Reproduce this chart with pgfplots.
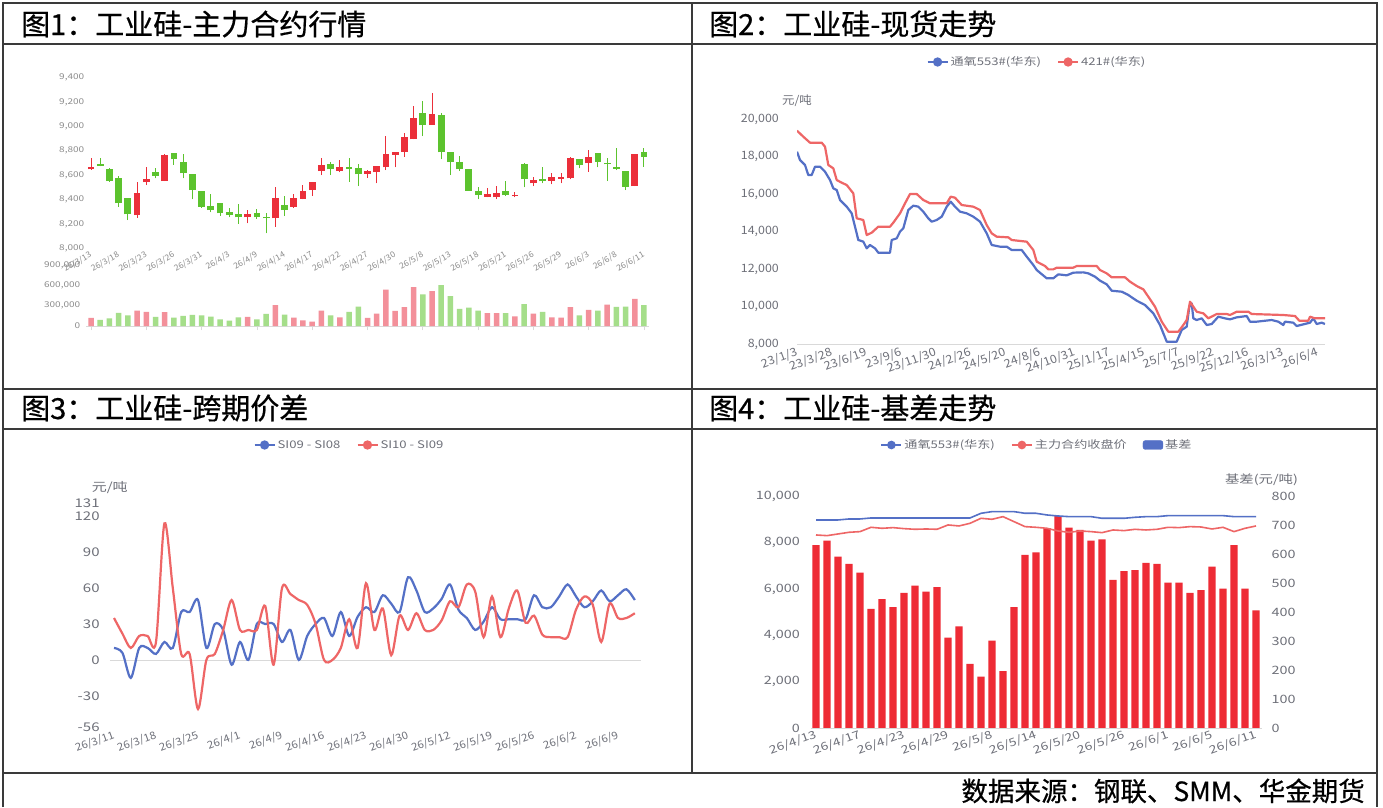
\documentclass[border=0pt]{standalone}
\usepackage{fontspec}
\setmainfont{Noto Sans CJK SC}
\newfontfamily\cjk[FakeBold=0.6]{Noto Sans CJK SC}
\newfontfamily\cjkS[FakeStretch=1.25]{Noto Sans CJK SC}
\newfontfamily\cjkT[FakeStretch=1.08]{Noto Sans CJK SC}
\newfontfamily\cjkU[FakeStretch=1.05]{Noto Sans CJK SC}
\usepackage{pgfplots}
\usepackage{pgfplotstable}
\pgfplotsset{compat=1.18}
\definecolor{cred}{HTML}{EB2F3A}
\definecolor{cgreen}{HTML}{5CC32E}
\definecolor{vred}{HTML}{F3909A}
\definecolor{vgreen}{HTML}{A5DE8A}
\definecolor{lblue}{HTML}{5470C6}
\definecolor{lred}{HTML}{EE6666}
\definecolor{bred}{HTML}{EE2B35}
\definecolor{axgray}{HTML}{D9D9D9}
\definecolor{tgray}{HTML}{6E7079}
\definecolor{tgrayA}{HTML}{8C8C8C}
\definecolor{framec}{HTML}{3A3A3A}
\newcommand\fT{\cjk\fontsize{29}{32}\selectfont}
\newcommand\fF{\cjk\fontsize{26.5}{30}\selectfont}
\newcommand\fA{\cjkS\fontsize{8}{9}\selectfont}
\newcommand\fAx{\cjkU\fontsize{8.2}{9}\selectfont}
\newcommand\fB{\cjkT\fontsize{11.5}{13}\selectfont}
\newcommand\fC{\cjkS\fontsize{12}{14}\selectfont}
\newcommand\fCx{\cjkT\fontsize{10.5}{12}\selectfont}
\newcommand\fD{\cjkS\fontsize{11.5}{13}\selectfont}
\newcommand\fDx{\cjkS\fontsize{11}{13}\selectfont}
\newcommand\fL{\cjkS\fontsize{10.5}{12}\selectfont}

\pgfplotsset{
  every axis/.append style={scale only axis, anchor=south west,
    /pgf/number format/fixed,
    /pgf/number format/assume math mode=true,
    /pgf/number format/1000 sep={,},
    scaled ticks=false},
  lineleg/.style={legend image code/.code={
      \draw[##1, line width=2pt] (0pt,0pt) -- (20pt,0pt);
      \fill[##1] (10pt,0pt) circle (3.5pt);}},
  mylegend/.style 2 args={legend style={at={(#1,#2)}, anchor=center, draw=none, fill=none,
      font=\fL, text=tgray, legend columns=-1, inner sep=0pt,
      /tikz/every even column/.append style={column sep=14pt}}},
}

% ---------- data ----------
\pgfplotstableread{
i O H L C vol vu
0 8648 8744 8645 8670 120000 1
1 8692 8744 8672 8675 90000 0
2 8651 8656 8547 8552 115000 0
3 8580 8596 8342 8369 195000 0
4 8416 8416 8232 8279 160000 0
5 8273 8541 8252 8451 230000 1
6 8541 8670 8519 8569 210000 1
7 8623 8656 8574 8596 135000 0
8 8552 8771 8552 8766 205000 1
9 8779 8779 8684 8730 125000 0
10 8705 8771 8574 8615 150000 0
11 8607 8607 8402 8478 165000 0
12 8473 8473 8334 8342 160000 0
13 8350 8443 8295 8314 140000 0
14 8375 8375 8268 8287 100000 0
15 8295 8328 8254 8273 80000 0
16 8279 8364 8200 8254 130000 0
17 8254 8314 8205 8279 135000 1
18 8287 8323 8241 8254 100000 0
19 8254 8287 8123 8246 180000 0
20 8246 8500 8178 8410 310000 1
21 8355 8429 8265 8314 170000 0
22 8342 8443 8334 8416 125000 1
23 8407 8519 8402 8473 85000 1
24 8478 8544 8432 8544 65000 1
25 8634 8744 8601 8684 230000 1
26 8692 8711 8601 8648 160000 0
27 8634 8725 8623 8670 130000 1
28 8670 8738 8547 8651 210000 0
29 8656 8692 8511 8607 290000 0
30 8610 8642 8580 8634 120000 1
31 8623 8675 8533 8675 185000 1
32 8664 8921 8642 8771 540000 1
33 8766 8787 8664 8787 225000 1
34 8793 8949 8752 8916 280000 1
35 8894 9170 8894 9072 580000 1
36 9113 9211 8921 9009 470000 0
37 9012 9271 9012 9102 520000 1
38 9094 9113 8730 8787 610000 0
39 8790 8790 8601 8708 445000 0
40 8708 8757 8634 8648 255000 0
41 8651 8651 8473 8473 275000 0
42 8470 8500 8402 8437 230000 0
43 8424 8498 8418 8446 190000 1
44 8418 8514 8402 8454 190000 1
45 8473 8552 8429 8435 190000 0
46 8427 8465 8418 8437 145000 1
47 8692 8697 8500 8566 325000 0
48 8533 8588 8511 8560 185000 1
49 8566 8664 8533 8550 210000 0
50 8555 8621 8525 8582 130000 1
51 8571 8621 8533 8582 125000 1
52 8574 8746 8566 8738 280000 1
53 8730 8730 8656 8684 160000 0
54 8697 8807 8629 8746 240000 1
55 8779 8779 8664 8711 230000 0
56 8694 8738 8552 8689 320000 1
57 8670 8826 8642 8651 285000 0
58 8634 8634 8478 8506 290000 0
59 8511 8774 8511 8774 405000 1
60 8793 8820 8670 8752 310000 0
}\candles

\pgfplotstableread{
x y
0 18271
3 17826
8 17559
11.3 17025
14.7 17025
18 17470
23 17470
28 17203
33 16758
36.3 16313
39.7 16224
43 15690
49.7 15334
54.7 14978
58 14266
61.3 13554
66.3 13465
69.7 13109
73 13287
78 13109
81.3 12877
93 12877
94.7 13554
99.7 13643
103 13999
106.3 14177
111.3 15156
116.3 15387
121.3 15334
126.3 15067
131.3 14711
134.7 14533
139.7 14622
144.7 14800
149.7 15334
153.7 15601
158 15334
163 15067
169.7 14978
176.3 14800
183 14533
189.7 13910
194.7 13287
203 13198
209.7 13198
214.7 13020
224.7 13020
229.7 12664
236.3 12219
239.7 11952
249.7 11508
256.3 11508
261.3 11720
269.7 11667
276.3 11809
286.3 11827
291.3 11774
298 11596
303 11383
309.7 11187
314.7 10846
324.7 10793
331.3 10617
339.7 10312
348 10083
356.3 9638
363 9015
369.7 8125
379.7 8125
384.7 8748
389.7 8926
392.3 9993
394.7 10170
396.3 9371
399.7 9282
404.7 9371
409.7 9015
414.7 9068
421.3 9460
428 9371
433 9317
439.7 9424
449.7 9495
453 9193
459.7 9193
474.7 9282
481.3 9193
486.3 9015
488 9193
496.3 9139
499.7 8961
506.3 9050
513 9139
516.3 9371
519.7 9068
524.7 9139
528 9068
}\spotA

\pgfplotstableread{
x y
0 19392
6.3 19072
13 18751
24.7 18751
28 18538
31.3 17559
36.3 17381
39.7 16758
44.7 16615
49.7 16491
56.3 16046
59.7 14711
66.3 14622
69.7 13821
74.7 13945
81.3 14266
93 14266
96.3 14480
103 14978
108 15512
113 16010
119.7 16010
126.3 15690
133 15512
149.7 15512
153.7 15868
158 15814
164.7 15423
176.3 15334
183 15156
189.7 14355
194.7 13910
199.7 13732
211.3 13696
214.7 13554
229.7 13465
236.3 13020
239.7 12397
248 12165
251.3 11987
256.3 11987
259.7 12076
276.3 12076
279.7 12165
299.7 12165
303 11952
309.7 11774
314.7 11561
328 11561
333 11330
339.7 11098
346.3 10920
351.3 10526
358 9993
364.7 9193
371.3 8659
381.3 8659
386.3 9015
389.7 9282
393 10260
396.3 9993
399.7 9726
406.3 9638
411.3 9371
419.7 9602
429.7 9602
433 9549
439.7 9726
451.3 9726
454.7 9602
486.3 9549
498 9495
502.3 9246
511.3 9246
513 9460
518 9371
528 9371
}\spotB

\pgfplotstableread{
d b r
0 10 35
1 6 22
2 -15 10
3 10 20
4 10 20
5 5 15
6 15 114
7 10 60
8 40 5
9 40 5
10 50 -41
11 10 0
12 30 5
13 25 25
14 -4 50
15 15 25
16 0 25
17 30 25
18 30 45
19 30 -4
20 15 60
21 25 55
22 0 50
23 20 46
24 30 30
25 35 0
26 20 0
27 40 10
28 20 34
29 36 10
30 44 64
31 40 25
32 54 43
33 47 4
34 40 37
35 69 25
36 58 39
37 40 25
38 43 25
39 51 33
40 63 49
41 42 44
42 35 63
43 25 57
44 32 19
45 44 53
46 34 19
47 34 43
48 34 58
49 34 31
50 54 37
51 44 21
52 44 19
53 53 19
54 63 19
55 53 42
56 44 53
57 49 46
58 58 15
59 49 47
60 54 35
61 59 35
62 50 39
}\spread

\pgfplotstableread{
i b s c
0 631 8969 8323
1 646 8969 8294
2 591 8969 8366
3 566 9012 8438
4 536 9012 8467
5 411 9055 8653
6 445 9055 8610
7 417 9055 8639
8 466 9055 8596
9 491 9055 8567
10 471 9055 8581
11 486 9055 8567
12 312 9055 8754
13 351 9055 8711
14 222 9055 8825
15 178 9256 9041
16 302 9328 8998
17 197 9328 9112
18 417 9328 8897
19 597 9256 8682
20 606 9256 8653
21 689 9184 8610
22 731 9141 8495
23 691 9112 8438
24 683 9112 8495
25 646 9112 8467
26 651 9041 8423
27 511 9041 8538
28 541 9041 8510
29 545 9084 8567
30 570 9112 8538
31 566 9112 8567
32 502 9155 8653
33 502 9155 8639
34 466 9155 8682
35 476 9155 8667
36 557 9155 8581
37 481 9155 8653
38 631 9112 8467
39 481 9112 8610
40 406 9112 8711
}\basis

\begin{document}
\begin{tikzpicture}[x=1pt,y=1pt]
\path[use as bounding box] (0,0) rectangle (1383,-807);
\fill[white] (0,0) rectangle (1383,-807);

% ================= Panel 1: candles =================
\begin{axis}[at={(86.4pt,-248.3pt)}, width=562.2pt, height=170.6pt,
  xmin=-0.5, xmax=60.5, ymin=8000, ymax=9400,
  ytick={8000,8200,...,9400},
  xtick={0,3,...,60},
  xticklabels={26/3/13,26/3/18,26/3/23,26/3/26,26/3/31,26/4/3,26/4/9,26/4/14,26/4/17,26/4/22,26/4/27,26/4/30,26/5/8,26/5/13,26/5/18,26/5/21,26/5/26,26/5/29,26/6/3,26/6/8,26/6/11},
  axis x line*=bottom, axis y line*=left,
  x axis line style={draw=none}, y axis line style={draw=none},
  xtick style={draw=none}, ytick style={draw=none},
  yticklabel style={font=\fA, text=tgrayA, anchor=east, inner sep=0pt, xshift=-2pt},
  xticklabel style={font=\fAx, text=tgrayA, yshift=-6pt, rotate=30, anchor=east, inner sep=0pt},
]
% wicks
\addplot[draw=none, forget plot, error bars/.cd, y dir=plus, y explicit, error mark=none,
  error bar style={draw=cred, line width=1pt}]
  table[x=i, y expr={\thisrow{C}>=\thisrow{O} ? \thisrow{L} : nan}, y error expr={\thisrow{H}-\thisrow{L}}] {\candles};
\addplot[draw=none, forget plot, error bars/.cd, y dir=plus, y explicit, error mark=none,
  error bar style={draw=cgreen, line width=1pt}]
  table[x=i, y expr={\thisrow{C}<\thisrow{O} ? \thisrow{L} : nan}, y error expr={\thisrow{H}-\thisrow{L}}] {\candles};
% bodies
\addplot[draw=none, forget plot, error bars/.cd, y dir=plus, y explicit, error mark=none,
  error bar style={draw=cred, line width=6.8pt}]
  table[x=i, y expr={\thisrow{C}>=\thisrow{O} ? \thisrow{O} : nan}, y error expr={max(\thisrow{C}-\thisrow{O},8)}] {\candles};
\addplot[draw=none, forget plot, error bars/.cd, y dir=plus, y explicit, error mark=none,
  error bar style={draw=cgreen, line width=6.8pt}]
  table[x=i, y expr={\thisrow{C}<\thisrow{O} ? \thisrow{C} : nan}, y error expr={max(\thisrow{O}-\thisrow{C},8)}] {\candles};
\end{axis}

% volume
\begin{axis}[at={(86.4pt,-326pt)}, width=562.2pt, height=60.5pt,
  xmin=-0.5, xmax=60.5, ymin=0, ymax=900000,
  ytick={0,300000,600000,900000},
  xtick={0,6,...,60}, xticklabels={},
  axis x line*=bottom, axis y line*=left,
  x axis line style={draw=axgray, line width=0.8pt}, y axis line style={draw=none},
  xtick style={draw=axgray, line width=0.8pt}, ytick style={draw=none},
  major tick length=4pt, tick align=outside,
  yticklabel style={font=\fA, text=tgrayA, anchor=east, inner sep=0pt, xshift=-2pt},
]
\addplot[ybar, bar width=5.5pt, bar shift=0pt, fill=vred, draw=none]
  table[x=i, y expr={\thisrow{vu}>0 ? \thisrow{vol} : nan}] {\candles};
\addplot[ybar, bar width=5.5pt, bar shift=0pt, fill=vgreen, draw=none]
  table[x=i, y expr={\thisrow{vu}<1 ? \thisrow{vol} : nan}] {\candles};
\end{axis}

% ================= Panel 2: spot =================
\begin{axis}[at={(797pt,-344pt)}, width=528pt, height=224.7pt,
  xmin=0, xmax=528, ymin=8000, ymax=20000,
  ytick={8000,10000,...,20000},
  xtick={0,34.7,69.4,104.1,138.8,173.5,208.2,242.9,277.6,312.3,347,381.7,416.4,451.1,485.8,520.5},
  xticklabels={23/1/3,23/3/28,23/6/19,23/9/6,23/11/30,24/2/26,24/5/20,24/8/6,24/10/31,25/1/17,25/4/15,25/7/7,25/9/22,25/12/16,26/3/13,26/6/4},
  axis x line*=bottom, axis y line*=left,
  x axis line style={draw=axgray, line width=0.8pt}, y axis line style={draw=none},
  xtick style={draw=none}, ytick style={draw=none},
  yticklabel style={font=\fB, text=tgray, anchor=east, inner sep=0pt, xshift=-18pt},
  xticklabel style={font=\fB, text=tgray, yshift=-8pt, rotate=20, anchor=east, inner sep=0pt},
  every axis y label/.style={at={(axis description cs:0,1)}, anchor=base, yshift=15pt, font=\fB, text=tgray},
  ylabel={元/吨},
  lineleg, mylegend={0.4545}{1.255},
]
\addplot[color=lblue, line width=2.2pt, line join=round] table[x=x,y=y]{\spotA};
\addlegendentry{通氧553\#(华东)}
\addplot[color=lred, line width=2.2pt, line join=round] table[x=x,y=y]{\spotB};
\addlegendentry{421\#(华东)}
\end{axis}

% ================= Panel 3: spreads =================
\begin{axis}[at={(109.8pt,-727pt)}, width=530.9pt, height=224pt,
  xmin=-0.5, xmax=62.7, ymin=-56, ymax=131,
  ytick={-56,-30,0,30,60,90,120,131},
  xtick={0,5,...,60},
  xticklabels={26/3/11,26/3/18,26/3/25,26/4/1,26/4/9,26/4/16,26/4/23,26/4/30,26/5/12,26/5/19,26/5/26,26/6/2,26/6/9},
  axis x line*=bottom, axis y line*=left,
  x axis line style={draw=none}, y axis line style={draw=none},
  xtick style={draw=none}, ytick style={draw=none},
  extra y ticks={0}, extra y tick labels={},
  extra y tick style={ymajorgrids=true, major grid style={draw=axgray, line width=0.8pt}},
  yticklabel style={font=\fC, text=tgray, anchor=east, inner sep=0pt, xshift=-10pt},
  xticklabel style={font=\fCx, text=tgray, yshift=-8pt, rotate=20, anchor=east, inner sep=0pt},
  every axis y label/.style={at={(axis description cs:0,1)}, anchor=base, yshift=12pt, font=\fC, text=tgray},
  ylabel={元/吨},
  lineleg, mylegend={0.4515}{1.259},
]
\addplot[color=lblue, line width=2.2pt, smooth, tension=0.5] table[x=d,y=b]{\spread};
\addlegendentry{SI09 - SI08}
\addplot[color=lred, line width=2.2pt, smooth, tension=0.5] table[x=d,y=r]{\spread};
\addlegendentry{SI10 - SI09}
\end{axis}

% ================= Panel 4: basis =================
\begin{axis}[at={(810.5pt,-728.3pt)}, width=451pt, height=232.3pt,
  xmin=-0.5, xmax=40.5, ymin=0, ymax=800,
  ytick={0,100,...,800},
  xtick=\empty,
  axis x line*=bottom, axis y line*=right,
  x axis line style={draw=none}, y axis line style={draw=none},
  ytick style={draw=none},
  yticklabel style={font=\fD, text=tgray, anchor=west, inner sep=0pt, xshift=10pt},
  every axis y label/.style={at={(axis description cs:1,1)}, anchor=base, yshift=13pt, font=\fD, text=tgray},
  ylabel={基差(元/吨)},
]
\addplot[ybar, bar width=7.3pt, bar shift=0pt, fill=bred, draw=none] table[x=i, y=b]{\basis};
\end{axis}
\begin{axis}[at={(810.5pt,-728.3pt)}, width=451pt, height=232.3pt,
  xmin=-0.5, xmax=40.5, ymin=0, ymax=10000,
  ytick={0,2000,...,10000},
  xtick={0,4,...,40},
  xticklabels={26/4/13,26/4/17,26/4/23,26/4/29,26/5/8,26/5/14,26/5/20,26/5/26,26/6/1,26/6/5,26/6/11},
  axis x line*=bottom, axis y line*=left,
  x axis line style={draw=axgray, line width=0.8pt}, y axis line style={draw=none},
  xtick style={draw=none}, ytick style={draw=none},
  yticklabel style={font=\fD, text=tgray, anchor=east, inner sep=0pt, xshift=-10.5pt},
  xticklabel style={font=\fDx, text=tgray, yshift=-6pt, rotate=20, anchor=east, inner sep=0pt},
  lineleg, mylegend={0.502}{1.2196},
]
\addplot[color=lblue, line width=1.6pt] table[x=i, y=s]{\basis};
\addlegendentry{通氧553\#(华东)}
\addplot[color=lred, line width=1.6pt] table[x=i, y=c]{\basis};
\addlegendentry{主力合约收盘价}
\addlegendimage{legend image code/.code={\fill[lblue, rounded corners=2.5pt] (0pt,-4.5pt) rectangle (20pt,4.5pt);}}
\addlegendentry{基差}
\end{axis}

% ================= frame and titles =================
\draw[framec, line width=1.3pt] (3,-807) -- (3,-3) -- (1377,-3) -- (1377,-807);
\draw[framec, line width=1.3pt] (3,-44) -- (1377,-44);
\draw[framec, line width=1.3pt] (3,-389) -- (1377,-389);
\draw[framec, line width=1.3pt] (3,-429) -- (1377,-429);
\draw[framec, line width=1.3pt] (3,-773) -- (1377,-773);
\draw[framec, line width=1.3pt] (692,-3) -- (692,-773);
\node[anchor=base west, inner sep=0pt] at (21,-35) {\fT 图1：工业硅-主力合约行情};
\node[anchor=base west, inner sep=0pt] at (709,-35) {\fT 图2：工业硅-现货走势};
\node[anchor=base west, inner sep=0pt] at (21,-419) {\fT 图3：工业硅-跨期价差};
\node[anchor=base west, inner sep=0pt] at (709,-419) {\fT 图4：工业硅-基差走势};
\node[anchor=base east, inner sep=0pt] at (1365,-801) {\fF 数据来源：钢联、SMM、华金期货};
\end{tikzpicture}
\end{document}
